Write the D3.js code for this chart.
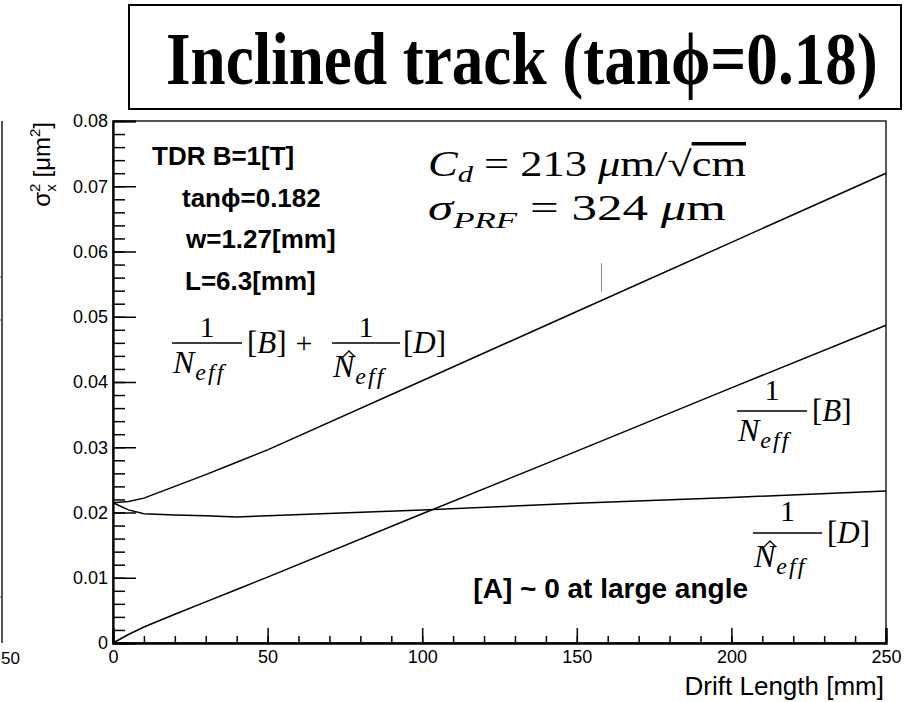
<!DOCTYPE html>
<html>
<head>
<meta charset="utf-8">
<script src="https://cdn.jsdelivr.net/npm/d3@7"></script>
<style>
    body { margin: 0; background: #fff; }
    text { font-family: "Liberation Sans", Arial, sans-serif; fill: #000; }
    .math { font-family: "Liberation Serif", "Times New Roman", serif; }
</style>
</head>
<body>
<div class="chart"></div>
<script>
// Drift length sample points [mm]
const driftLength = [0, 5, 10, 20, 30, 40, 50, 100, 150, 200, 250];

// 1/Neff [B] term
const termB = [0, 0.0013, 0.00245, 0.0044, 0.0063, 0.0082, 0.0101, 0.0198, 0.0294, 0.0391, 0.0487];

// 1/N^eff [D] term
const termD = [0.0215, 0.0204, 0.0198, 0.0196, 0.0195, 0.0193, 0.0195, 0.0204, 0.0214, 0.0223, 0.0233];

// sum of both terms
const termSum = [0.0215, 0.0217, 0.0222, 0.0240, 0.0258, 0.0277, 0.0296, 0.0402, 0.0508, 0.0614, 0.0720];

// small grey stroke left in the picture near x=158
const strayMark = [{x: 158, y: 0.0538}, {x: 158, y: 0.0582}];

// tick labels
const xTicks = [0, 50, 100, 150, 200, 250];
const yTicks = [0, 0.01, 0.02, 0.03, 0.04, 0.05, 0.06, 0.07, 0.08];
const yTickLabels = ["0", "0.01", "0.02", "0.03", "0.04", "0.05", "0.06", "0.07", "0.08"];

let width = 916;
let height = 702;

let margin = {
    top: 121,
    right: 30,
    left: 113,
    bottom: 59
};

let plotW = width - margin.left - margin.right;
let plotH = height - margin.top - margin.bottom;

let svg = d3.select(".chart").append("svg")
    .attr("width", width)
    .attr("height", height);

// Title box
svg.append("rect")
    .attr("x", 129).attr("y", 5)
    .attr("width", 772).attr("height", 104)
    .attr("fill", "none").attr("stroke", "#000").attr("stroke-width", 2);

// Title text, squeezed horizontally to fit the box
let title = svg.append("text")
    .attr("class", "math")
    .style("font-size", "74px")
    .style("font-weight", "bold")
    .text("Inclined track (tanϕ=0.18)");
let titleLen = title.node().getComputedTextLength();
title.attr("transform", `translate(166, 84) scale(${712 / titleLen}, 1)`);

// Piece of the neighbouring pad at the left edge
svg.append("line")
    .attr("x1", 2).attr("x2", 2).attr("y1", margin.top).attr("y2", margin.top + plotH)
    .attr("stroke", "#555").attr("stroke-width", 2);
[277, 320, 597].forEach(y => {
    svg.append("line").attr("x1", 0).attr("x2", 3).attr("y1", y).attr("y2", y)
        .attr("stroke", "#555").attr("stroke-width", 1);
});
svg.append("text")
    .attr("x", 1).attr("y", margin.top + plotH + 21)
    .style("font-size", "17px")
    .text("50");

// Scales
const xScale = d3.scaleLinear().domain([0, 250]).range([0, plotW]);
const yScale = d3.scaleLinear().domain([0, 0.08]).range([plotH, 0]);

const plot = svg.append("g")
    .attr("transform", `translate(${margin.left}, ${margin.top})`);

// Frame
plot.append("rect")
    .attr("width", plotW).attr("height", plotH)
    .attr("fill", "none").attr("stroke", "#000").attr("stroke-width", 1.3);

// Y axis, minor then major ticks pointing inside
plot.append("g")
    .call(d3.axisLeft(yScale).tickValues(d3.range(0, 0.0801, 0.002)).tickSize(-12).tickFormat(""))
    .call(g => g.select(".domain").remove());

let yAxis = plot.append("g")
    .call(d3.axisLeft(yScale).tickValues(yTicks).tickSize(-23).tickPadding(5)
        .tickFormat((d, i) => yTickLabels[i]));
yAxis.select(".domain").attr("stroke-width", 2.2);
yAxis.selectAll("text").style("font-size", "18px").style("font-family", "Liberation Sans, Arial, sans-serif");
plot.selectAll("line").attr("stroke-width", 1.5);

// X axis
plot.append("g")
    .attr("transform", `translate(0, ${plotH})`)
    .call(d3.axisBottom(xScale).tickValues(d3.range(0, 251, 10)).tickSize(-7).tickFormat(""))
    .call(g => g.select(".domain").remove())
    .selectAll("line").attr("stroke-width", 1.5);

let xAxis = plot.append("g")
    .attr("transform", `translate(0, ${plotH})`)
    .call(d3.axisBottom(xScale).tickValues(xTicks).tickSize(-15).tickPadding(4).tickFormat(d3.format("d")));
xAxis.select(".domain").attr("stroke-width", 2.4);
xAxis.selectAll("line").attr("stroke-width", 1.5);
xAxis.selectAll("text")
    .style("font-size", "18px")
    .style("font-family", "Liberation Sans, Arial, sans-serif")
    .attr("dy", "0.9em");

// Axis titles
svg.append("text")
    .attr("x", 884).attr("y", 695)
    .attr("text-anchor", "end")
    .style("font-size", "26px")
    .text("Drift Length [mm]");

let yTitle = svg.append("text")
    .attr("transform", "translate(50, 122) rotate(-90)")
    .attr("text-anchor", "end")
    .style("font-size", "24px");
yTitle.append("tspan").text("σ");
yTitle.append("tspan").attr("dy", -10).style("font-size", "15px").text("2");
yTitle.append("tspan").attr("dx", -8).attr("dy", 16).style("font-size", "15px").text("x");
yTitle.append("tspan").attr("dy", -6).text(" [μm");
yTitle.append("tspan").attr("dy", -10).style("font-size", "15px").text("2");
yTitle.append("tspan").attr("dy", 10).text("]");

// Curves
const line = d3.line()
    .x(d => xScale(d.x))
    .y(d => yScale(d.y));

[termB, termD, termSum].forEach(series => {
    plot.append("path")
        .datum(driftLength.map((x, i) => ({x: x, y: series[i]})))
        .attr("fill", "none")
        .attr("stroke", "#000")
        .attr("stroke-width", 1.5)
        .attr("d", line);
});

plot.append("path")
    .datum(strayMark)
    .attr("fill", "none")
    .attr("stroke", "#888")
    .attr("stroke-width", 1)
    .attr("d", line);

// Bold parameter text
const params = [
    {t: "TDR B=1[T]", x: 152, y: 165},
    {t: "tanϕ=0.182", x: 182, y: 207},
    {t: "w=1.27[mm]", x: 186, y: 248},
    {t: "L=6.3[mm]", x: 185, y: 290}
];
params.forEach(p => {
    svg.append("text")
        .attr("x", p.x).attr("y", p.y)
        .style("font-size", "26px")
        .style("font-weight", "bold")
        .text(p.t);
});

svg.append("text")
    .attr("x", 748).attr("y", 598)
    .attr("text-anchor", "end")
    .style("font-size", "28px")
    .style("font-weight", "bold")
    .text("[A] ~ 0 at large angle");

// Cd and sigma_PRF formulas
let cd = svg.append("text").attr("class", "math")
    .attr("x", 428).attr("y", 176)
    .attr("textLength", 318).attr("lengthAdjust", "spacingAndGlyphs")
    .style("font-size", "35px");
cd.append("tspan").style("font-style", "italic").text("C");
cd.append("tspan").attr("dy", 6).style("font-size", "24px").style("font-style", "italic").text("d");
cd.append("tspan").attr("dy", -6).text(" = 213 ");
cd.append("tspan").style("font-style", "italic").text("μ");
cd.append("tspan").text("m/√");
cd.append("tspan").style("text-decoration", "overline").text("cm");

let sp = svg.append("text").attr("class", "math")
    .attr("x", 428).attr("y", 220)
    .attr("textLength", 298).attr("lengthAdjust", "spacingAndGlyphs")
    .style("font-size", "35px");
sp.append("tspan").style("font-style", "italic").text("σ");
sp.append("tspan").attr("dy", 8).style("font-size", "24px").style("font-style", "italic").text("PRF");
sp.append("tspan").attr("dy", -8).text(" = 324 ");
sp.append("tspan").style("font-style", "italic").text("μ");
sp.append("tspan").text("m");

// Fraction helper: 1 over N_eff with optional hat
function fraction(x0, x1, yBar, numGap, hat) {
    let cx = (x0 + x1) / 2;
    svg.append("line")
        .attr("x1", x0).attr("x2", x1).attr("y1", yBar).attr("y2", yBar)
        .attr("stroke", "#000").attr("stroke-width", 1.3);
    svg.append("text").attr("class", "math")
        .attr("x", cx).attr("y", yBar - numGap)
        .attr("text-anchor", "middle")
        .style("font-size", "30px")
        .text("1");
    let den = svg.append("text").attr("class", "math")
        .attr("x", x0 + 1).attr("y", yBar + (hat ? 34 : 30))
        .style("font-size", "32px").style("font-style", "italic");
    den.append("tspan").text("N");
    den.append("tspan").attr("dy", 7).attr("dx", 1)
        .style("font-size", "24px").style("letter-spacing", "2px").text("eff");
    if (hat) {
        let hx = x0 + 17;
        svg.append("path")
            .attr("d", `M${hx - 6},${yBar + 14} L${hx},${yBar + 8} L${hx + 6},${yBar + 14}`)
            .attr("fill", "none").attr("stroke", "#000").attr("stroke-width", 1.3);
    }
}

function bracket(x, yBar, letter) {
    let t = svg.append("text").attr("class", "math")
        .attr("x", x).attr("y", yBar + 10)
        .style("font-size", "31px");
    t.append("tspan").text("[");
    t.append("tspan").style("font-style", "italic").text(letter);
    t.append("tspan").text("]");
}

// Sum label
fraction(172, 242, 343, 6, false);
bracket(247, 343, "B");
svg.append("text").attr("class", "math")
    .attr("x", 304).attr("y", 353).attr("text-anchor", "middle")
    .style("font-size", "30px").text("+");
fraction(332, 400, 343, 6, true);
bracket(403, 343, "D");

// B label
fraction(737, 807, 411, 11, false);
bracket(812, 411, "B");

// D label
fraction(753, 822, 533, 12, true);
bracket(827, 533, "D");
</script>
</body>
</html>
